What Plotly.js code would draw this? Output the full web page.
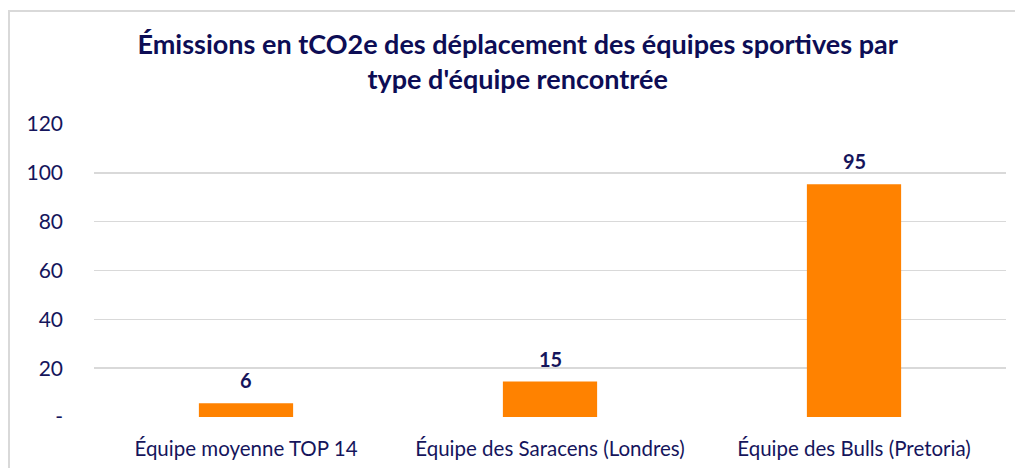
<!DOCTYPE html>
<html>
<head>
<meta charset="utf-8">
<script src="https://cdn.plot.ly/plotly-3.0.1.min.js"></script>
<style>
html,body{margin:0;padding:0;background:#fff;}
#wrap{position:relative;width:1015px;height:468px;overflow:hidden;}
#chart{width:1015px;height:468px;}
#frame{position:absolute;left:8px;top:10px;width:1100px;height:600px;border:2px solid #d9d9d9;box-sizing:border-box;pointer-events:none;}
</style>
</head>
<body>
<div id="wrap"><div id="chart"></div><div id="frame"></div></div>
<script>
const categories = ["Équipe moyenne TOP 14", "Équipe des Saracens (Londres)", "Équipe des Bulls (Pretoria)"];
const emissions = [5.6, 14.5, 95.3];
const yTickVals = [0, 20, 40, 60, 80, 100, 120];
const yTickText = ["-", "20", "40", "60", "80", "100", "120"];

const navy = "#15155c";
const trace = {
  type: "bar",
  x: categories,
  y: emissions,
  marker: {color: "#ff8200"},
  hoverinfo: "none"
};

const labels = categories.map((c, i) => ({
  x: c, y: emissions[i], xref: "x", yref: "y",
  text: "<b>" + Math.round(emissions[i]) + "</b>",
  showarrow: false, yanchor: "bottom", yshift: 9,
  font: {family: "Lato", size: 20, color: navy}
}));

const layout = {
  width: 1015, height: 468,
  margin: {l: 94, r: 9, t: 124, b: 51},
  paper_bgcolor: "#fff", plot_bgcolor: "#fff",
  bargap: 0.69,
  showlegend: false,
  font: {family: "Lato", color: navy},
  title: {
    text: "<b>Émissions en tCO2e des déplacement des équipes sportives par<br>type d'équipe rencontrée</b>",
    font: {family: "Lato", size: 27, color: "#0d0d55"},
    x: 0.51, xanchor: "center", y: 0.885, yanchor: "top"
  },
  annotations: labels,
  xaxis: {
    type: "category",
    tickfont: {family: "Lato", size: 20.5, color: navy},
    showline: false, showgrid: false, zeroline: false, ticks: "",
    ticklabelstandoff: 17
  },
  yaxis: {
    range: [0, 120],
    tickvals: yTickVals, ticktext: yTickText,
    tickfont: {family: "Lato", size: 21, color: navy},
    showgrid: true, gridcolor: "#d9d9d9", gridwidth: 1.5,
    zeroline: false, showline: false, ticks: "",
    ticklabelstandoff: 30
  }
};

Plotly.newPlot("chart", [trace], layout, {staticPlot: true});
</script>
</body>
</html>
